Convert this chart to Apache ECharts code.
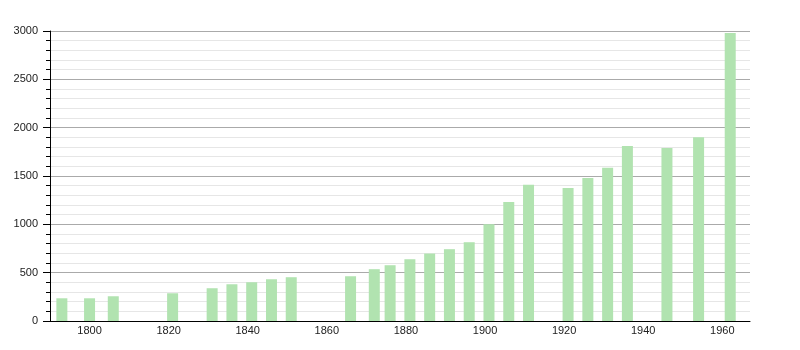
<!DOCTYPE html>
<html>
<head>
<meta charset="utf-8">
<script src="https://cdn.jsdelivr.net/npm/echarts@6/dist/echarts.min.js"></script>
<style>html,body{margin:0;padding:0;background:#fff}#c{width:800px;height:350px}</style>
</head>
<body>
<div id="c"></div>
<script>
var years = [1793,1800,1806,1821,1831,1836,1841,1846,1851,1866,1872,1876,1881,1886,1891,1896,1901,1906,1911,1921,1926,1931,1936,1946,1954,1962];
var population = [235,235,256,287,339,380,401,432,453,463,536,577,639,698,743,815,1002,1230,1409,1375,1479,1585,1810,1790,1900,2980];
var xTickLabels = [1800,1820,1840,1860,1880,1900,1920,1940,1960];
var yTicks = [0,500,1000,1500,2000,2500,3000];

var chart = echarts.init(document.getElementById('c'), null, {renderer:'canvas'});
var data = years.map(function(y,i){return [y, population[i]];});
chart.setOption({
  animation:false,
  grid:{left:50,right:50,top:31,bottom:29,containLabel:false},
  xAxis:{
    type:'value', min:1790, max:1967,
    axisLine:{show:true,lineStyle:{color:'#000',width:1}},
    axisTick:{show:false},
    splitLine:{show:false},
    axisLabel:{customValues:xTickLabels, color:'#222', fontSize:11, fontFamily:'Liberation Sans', margin:4, formatter:function(v){return String(v);}}
  },
  yAxis:{
    type:'value', min:yTicks[0], max:yTicks[yTicks.length-1], interval:500,
    axisLine:{show:true,lineStyle:{color:'#000',width:1}},
    axisTick:{show:true,length:7,lineStyle:{color:'#000'}},
    minorTick:{show:true,splitNumber:5,length:4,lineStyle:{color:'#000'}},
    splitLine:{show:true,lineStyle:{color:'#aaaaaa',width:1}},
    minorSplitLine:{show:true,lineStyle:{color:'#e6e6e6',width:1}},
    axisLabel:{color:'#222',fontSize:11,fontFamily:'Liberation Sans',margin:12,formatter:function(v){return String(v);}}
  },
  series:[{
    type:'bar', data:data, barWidth:11,
    itemStyle:{color:'#b1e3b0'}
  }]
});
</script>
</body>
</html>
